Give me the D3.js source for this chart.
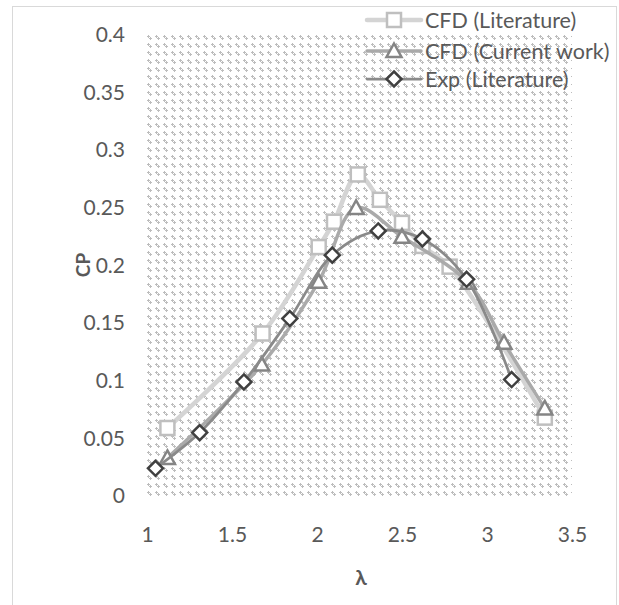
<!DOCTYPE html>
<html><head><meta charset="utf-8">
<script src="https://cdn.jsdelivr.net/npm/d3@7"></script>
<style>body{margin:0;background:#fff}svg{display:block}text{font-family:Lato,"Open Sans",sans-serif}</style>
</head><body><svg id="c" width="619" height="605"></svg>
<script>
const xTicks = [1, 1.5, 2, 2.5, 3, 3.5];
const yTicks = [0, 0.05, 0.1, 0.15, 0.2, 0.25, 0.3, 0.35, 0.4];
const seriesNames = ["CFD (Literature)", "CFD (Current work)", "Exp (Literature)"];
const litX = [1.12, 1.68, 2.01, 2.10, 2.24, 2.37, 2.50, 2.62, 2.78, 3.34];
const litY = [0.059, 0.141, 0.216, 0.238, 0.279, 0.257, 0.237, 0.217, 0.199, 0.068];
const curX = [1.12, 1.675, 2.01, 2.23, 2.50, 2.89, 3.10, 3.34];
const curY = [0.033, 0.114, 0.186, 0.250, 0.225, 0.185, 0.133, 0.076];
const expX = [1.05, 1.31, 1.57, 1.84, 2.09, 2.36, 2.62, 2.88, 3.145];
const expY = [0.024, 0.055, 0.099, 0.154, 0.209, 0.230, 0.223, 0.188, 0.101];

const svg = d3.select("#c");
const L = 147, R = 572, T = 35, B = 496;
const x = d3.scaleLinear().domain([1, 3.5]).range([L, R]);
const y = d3.scaleLinear().domain([0, 0.4]).range([B, T]);

// chart border
svg.append("rect").attr("x", 12.5).attr("y", 6.5).attr("width", 604).attr("height", 610)
  .attr("fill", "#fff").attr("stroke", "#d9d9d9").attr("stroke-width", 1);

// pattern
const defs = svg.append("defs");
const pat = defs.append("pattern").attr("id", "pt").attr("patternUnits", "userSpaceOnUse")
  .attr("width", 8).attr("height", 8).attr("x", L).attr("y", T);
pat.append("rect").attr("width", 8).attr("height", 8).attr("fill", "#fff");
const px = [[0,1],[1,1],[2,1],[1,0],[1,2],[2,3],[3,3],[4,3],[3,2],[3,4]];
pat.selectAll("rect.p").data(px).enter().append("rect").attr("class","p")
  .attr("x", d => d[0]).attr("y", d => d[1]).attr("width", 1).attr("height", 1)
  .attr("fill", "#bdbdbd").attr("shape-rendering", "crispEdges");

svg.append("rect").attr("x", L).attr("y", T).attr("width", R - L).attr("height", B - T)
  .attr("fill", "url(#pt)");

const FS = 21;
// axes
const yAxis = d3.axisLeft(y).tickValues(yTicks).tickSize(0).tickPadding(0).tickFormat(d => d3.format("")(d));
const gy = svg.append("g").attr("transform", `translate(${L - 22},0)`).call(yAxis);
gy.select(".domain").remove();
gy.selectAll("text").attr("font-size", FS).attr("fill", "#595959").attr("font-family", "Lato");

const xAxis = d3.axisBottom(x).tickValues(xTicks).tickSize(0).tickPadding(0).tickFormat(d => d3.format("")(d));
const gx = svg.append("g").attr("transform", `translate(0,${B + 31})`).call(xAxis);
gx.select(".domain").remove();
gx.selectAll("text").attr("font-size", FS).attr("fill", "#595959").attr("font-family", "Lato");

svg.append("text").attr("transform", "translate(90,265) rotate(-90)").attr("text-anchor", "middle")
  .attr("font-size", 19).attr("font-weight", "bold").attr("fill", "#595959").text("CP");
svg.append("text").attr("x", 361).attr("y", 585).attr("text-anchor", "middle")
  .attr("font-size", 21).attr("font-weight", "bold").attr("fill", "#595959").text("λ");

const curve = d3.curveCatmullRom.alpha(0.5);
const line = d3.line().x(d => x(d[0])).y(d => y(d[1])).curve(curve);

const styles = [
  {xs: litX, ys: litY, lc: "#d4d4d4", lw: 4.5, mc: "#bfbfbf", shape: "sq"},
  {xs: curX, ys: curY, lc: "#aaaaaa", lw: 3.5, mc: "#858585", shape: "tri"},
  {xs: expX, ys: expY, lc: "#8a8a8a", lw: 2.75, mc: "#404040", shape: "dia"}
];

function marker(g, shape, cx, cy, col) {
  if (shape === "sq") {
    g.append("rect").attr("x", cx - 7).attr("y", cy - 7).attr("width", 14).attr("height", 14)
      .attr("fill", "#fff").attr("stroke", col).attr("stroke-width", 2.5);
  } else if (shape === "tri") {
    g.append("path").attr("d", `M${cx},${cy - 7.5}L${cx + 7.5},${cy + 6}L${cx - 7.5},${cy + 6}Z`)
      .attr("fill", "#fff").attr("stroke", col).attr("stroke-width", 2.5).attr("stroke-linejoin", "miter");
  } else {
    g.append("path").attr("d", `M${cx},${cy - 7.5}L${cx + 7.5},${cy}L${cx},${cy + 7.5}L${cx - 7.5},${cy}Z`)
      .attr("fill", "#fff").attr("stroke", col).attr("stroke-width", 2.5);
  }
}

styles.forEach(s => {
  const pts = s.xs.map((v, i) => [v, s.ys[i]]);
  const g = svg.append("g");
  g.append("path").attr("d", line(pts)).attr("fill", "none").attr("stroke", s.lc)
    .attr("stroke-width", s.lw).attr("stroke-linecap", "round").attr("stroke-linejoin", "round");
  pts.forEach(p => marker(g, s.shape, x(p[0]), y(p[1]), s.mc));
});

// legend
const legY = [20, 51, 79];
styles.forEach((s, i) => {
  const g = svg.append("g");
  g.append("line").attr("x1", 367).attr("x2", 421).attr("y1", legY[i]).attr("y2", legY[i])
    .attr("stroke", s.lc).attr("stroke-width", s.lw).attr("stroke-linecap", "round");
  marker(g, s.shape, 394, legY[i], s.mc);
  g.append("text").attr("x", 425).attr("y", legY[i]).attr("dy", "0.35em")
    .attr("font-size", 21.5).attr("fill", "#595959").text(seriesNames[i]);
});
</script></body></html>
